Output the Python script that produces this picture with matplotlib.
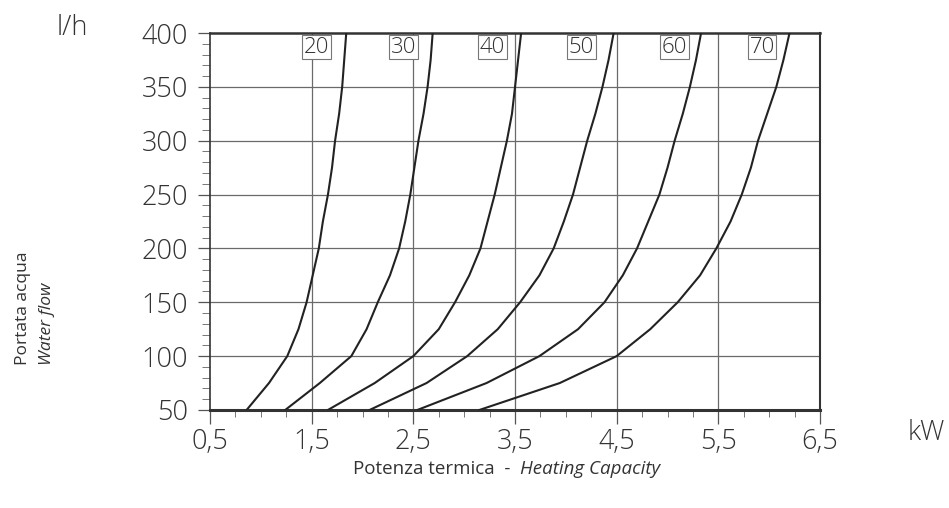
import numpy as np
import matplotlib.pyplot as plt
from matplotlib.ticker import MultipleLocator, FixedLocator

# water flow (l/h) at which each curve is read
flow = [50, 75, 100, 125, 150, 175, 200, 225, 250, 275, 300, 325, 350, 375, 400]

# heating capacity (kW) per delta-T curve
cap_20 = [0.86, 1.08, 1.26, 1.37, 1.45, 1.51, 1.57, 1.61, 1.66, 1.70, 1.73, 1.77, 1.80, 1.82, 1.84]
cap_30 = [1.24, 1.58, 1.89, 2.04, 2.15, 2.27, 2.36, 2.42, 2.47, 2.51, 2.55, 2.60, 2.64, 2.67, 2.69]
cap_40 = [1.66, 2.12, 2.50, 2.75, 2.91, 3.05, 3.16, 3.23, 3.30, 3.36, 3.42, 3.47, 3.50, 3.53, 3.56]
cap_50 = [2.07, 2.63, 3.03, 3.33, 3.55, 3.74, 3.88, 3.98, 4.07, 4.14, 4.21, 4.29, 4.36, 4.42, 4.47]
cap_60 = [2.54, 3.22, 3.74, 4.12, 4.38, 4.56, 4.70, 4.81, 4.92, 5.00, 5.07, 5.15, 5.22, 5.28, 5.33]
cap_70 = [3.15, 3.94, 4.50, 4.83, 5.10, 5.32, 5.48, 5.62, 5.73, 5.82, 5.89, 5.98, 6.07, 6.14, 6.20]

curve_names = ["20", "30", "40", "50", "60", "70"]
label_x = [1.55, 2.40, 3.28, 4.15, 5.07, 5.93]

x_ticks = [0.5, 1.5, 2.5, 3.5, 4.5, 5.5, 6.5]
x_tick_labels = ["0,5", "1,5", "2,5", "3,5", "4,5", "5,5", "6,5"]
y_ticks = [50, 100, 150, 200, 250, 300, 350, 400]

plt.rcParams['font.family'] = ['Open Sans', 'DejaVu Sans']
txt_c = '#333333'

fig = plt.figure(figsize=(9.49, 5.08), dpi=100)
ax = fig.add_axes([0.2213, 0.193, 0.6428, 0.742])

grid_c = '#6a6a6a'
for v in x_ticks[1:-1]:
    ax.axvline(v, color=grid_c, lw=0.9, zorder=1)
for v in y_ticks[1:-1]:
    ax.axhline(v, color=grid_c, lw=0.9, zorder=1)

curves = [cap_20, cap_30, cap_40, cap_50, cap_60, cap_70]
for cap, name, lx in zip(curves, curve_names, label_x):
    ax.plot(cap, flow, color='#222222', lw=1.5, zorder=3, solid_joinstyle='round')
    ax.text(lx, 387, name, ha='center', va='center', fontsize=16,
            color=txt_c, fontweight='light', zorder=4,
            bbox=dict(boxstyle='square,pad=0.08', fc='white', ec='#777777', lw=0.8))

ax.set_xlim(0.5, 6.5)
ax.set_ylim(50, 400)

ax.xaxis.set_major_locator(FixedLocator(x_ticks))
ax.xaxis.set_minor_locator(MultipleLocator(0.25))
ax.set_xticklabels(x_tick_labels)
ax.yaxis.set_major_locator(FixedLocator(y_ticks))
ax.yaxis.set_minor_locator(MultipleLocator(10))

ax.tick_params(axis='x', which='major', direction='out', length=10, width=0.9,
               pad=3, labelsize=19.5, labelcolor=txt_c, color='#555555')
ax.tick_params(axis='x', which='minor', direction='out', length=5, width=0.7,
               color='#777777')
ax.tick_params(axis='y', which='major', direction='out', length=9, width=0.9,
               pad=7, labelsize=19.5, labelcolor=txt_c, color='#555555')
ax.tick_params(axis='y', which='minor', direction='out', length=6, width=0.7,
               color='#777777')
for lab in ax.get_xticklabels() + ax.get_yticklabels():
    lab.set_fontweight('light')

ax.spines['left'].set_linewidth(1.2)
ax.spines['bottom'].set_linewidth(2.2)
ax.spines['top'].set_linewidth(1.8)
ax.spines['right'].set_linewidth(1.5)
for s in ax.spines.values():
    s.set_color(txt_c)

fig.text(0.076, 0.945, "l/h", fontsize=19.5, color=txt_c, fontweight='light',
         ha='center', va='center')
fig.text(0.996, 0.148, "kW", fontsize=19.5, color=txt_c, fontweight='light',
         ha='right', va='center')

fig.text(0.024, 0.2815, "Portata acqua", rotation=90, fontsize=12.5, color=txt_c,
         ha='center', va='bottom')
fig.text(0.050, 0.2815, "Water flow", rotation=90, fontsize=12.5, color=txt_c,
         style='italic', ha='center', va='bottom')

# x label: plain + italic part, centred together
t1 = fig.text(0, 0.076, "Potenza termica  -  ", fontsize=13.5, color=txt_c,
              ha='left', va='center')
t2 = fig.text(0, 0.076, "Heating Capacity", fontsize=13.5, color=txt_c,
              style='italic', ha='left', va='center')
r = fig.canvas.get_renderer()
w1 = t1.get_window_extent(r).width / fig.bbox.width
w2 = t2.get_window_extent(r).width / fig.bbox.width
x0 = 0.534 - (w1 + w2) / 2
t1.set_x(x0)
t2.set_x(x0 + w1)

fig.savefig("out.png", dpi=100)
